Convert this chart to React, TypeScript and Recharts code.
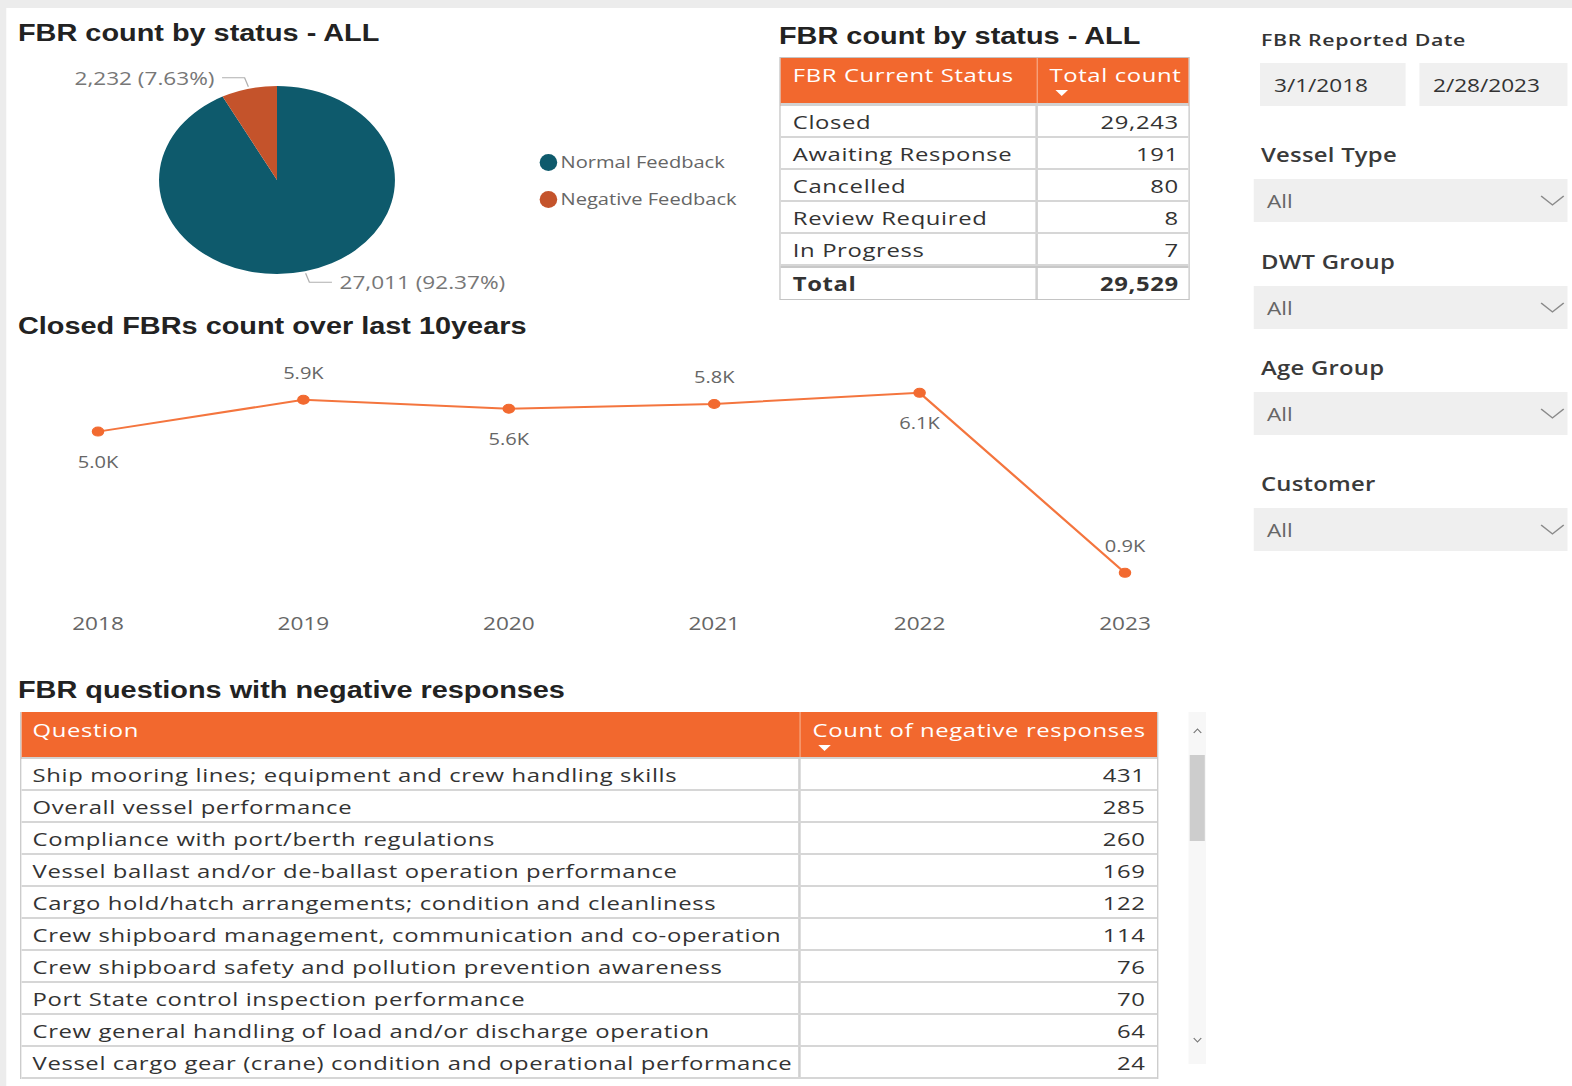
import React from "react";
import { PieChart, Pie, Cell, Legend, LineChart, Line, XAxis, YAxis } from "recharts";

// the reference screenshot is stretched horizontally, so the page is laid out
// narrower and scaled on x
const S = 1.255;
const X = (px: number) => px / S;

const FONT = '"Open Sans", "Noto Sans", sans-serif';
const TITLE_FONT = '"Liberation Sans", Arial, sans-serif';
const ORANGE = "#f2682e";

const FEEDBACK_NAMES = ["Normal Feedback", "Negative Feedback"];
const FEEDBACK_VALUES = [27011, 2232];
const FEEDBACK_COLORS = ["#0e5a6c", "#c4532b"];

const STATUS_NAMES = ["Closed", "Awaiting Response", "Cancelled", "Review Required", "In Progress"];
const STATUS_COUNTS = [29243, 191, 80, 8, 7];

const YEARS = ["2018", "2019", "2020", "2021", "2022", "2023"];
const CLOSED_COUNTS = [4980, 5900, 5640, 5780, 6100, 900];

const QUESTIONS = [
  "Ship mooring lines; equipment and crew handling skills",
  "Overall vessel performance",
  "Compliance with port/berth regulations",
  "Vessel ballast and/or de-ballast operation performance",
  "Cargo hold/hatch arrangements; condition and cleanliness",
  "Crew shipboard management, communication and co-operation",
  "Crew shipboard safety and pollution prevention awareness",
  "Port State control inspection performance",
  "Crew general handling of load and/or discharge operation",
  "Vessel cargo gear (crane) condition and operational performance",
];
const NEGATIVE_COUNTS = [431, 285, 260, 169, 122, 114, 76, 70, 64, 24];

const DATE_RANGE = ["3/1/2018", "2/28/2023"];
const SLICERS = ["Vessel Type", "DWT Group", "Age Group", "Customer"];
const SLICER_TOPS = [142, 249, 355, 471];

const pieData = FEEDBACK_NAMES.map((name, i) => ({ name, value: FEEDBACK_VALUES[i] }));
const lineData = YEARS.map((year, i) => ({ year, closed: CLOSED_COUNTS[i] }));
const statusTotal = STATUS_COUNTS.reduce((a, b) => a + b, 0);

const RAD = Math.PI / 180;

function renderPieLabel(props: any) {
  const { cx, cy, midAngle, outerRadius, value, percent } = props;
  const cos = Math.cos(-midAngle * RAD);
  const sin = Math.sin(-midAngle * RAD);
  const sx = cx + (outerRadius + 2) * cos;
  const sy = cy + (outerRadius + 2) * sin;
  const dir = cos >= 0 ? 1 : -1;
  const vdir = sin >= 0 ? 1 : -1;
  const mx = sx + dir * 3;
  const my = sy + vdir * 9;
  const ex = mx + dir * 18;
  return (
    <g>
      <polyline points={`${sx},${sy} ${mx},${my} ${ex},${my}`} fill="none" stroke="#b0b0b0" strokeWidth={1} />
      <text
        x={ex + dir * 6}
        y={my}
        textAnchor={dir > 0 ? "start" : "end"}
        dominantBaseline="central"
        fill="#777"
        fontSize={18}
      >
        {`${value.toLocaleString("en-US")} (${(percent * 100).toFixed(2)}%)`}
      </text>
    </g>
  );
}

function renderLegend(props: any) {
  const items = [...(props.payload || [])].sort(
    (a: any, b: any) => FEEDBACK_NAMES.indexOf(a.value) - FEEDBACK_NAMES.indexOf(b.value)
  );
  return (
    <div>
      {items.map((p: any) => (
        <div key={p.value} style={{ display: "flex", alignItems: "center", height: 37 }}>
          <span
            style={{ width: 14, height: 17, borderRadius: "50%", background: p.color, display: "inline-block", marginRight: 3 }}
          />
          <span style={{ fontSize: 16, color: "#666" }}>{p.value}</span>
        </div>
      ))}
    </div>
  );
}

function renderPointLabel(props: any) {
  const { x, y, value, index } = props;
  const above = index % 2 === 1;
  return (
    <text x={x} y={above ? y - 27 : y + 30} textAnchor="middle" dominantBaseline="central" fill="#666" fontSize={16}>
      {`${(value / 1000).toFixed(1)}K`}
    </text>
  );
}

function Title({ text, x, y }: { text: string; x: number; y: number }) {
  return (
    <div
      style={{
        position: "absolute",
        left: X(x),
        top: y - 14,
        fontFamily: TITLE_FONT,
        fontWeight: 700,
        fontSize: 23,
        lineHeight: "28px",
        color: "#222",
        whiteSpace: "nowrap",
      }}
    >
      {text}
    </div>
  );
}

function SortArrow() {
  return (
    <span
      style={{
        display: "block",
        width: 0,
        height: 0,
        borderLeft: "5px solid transparent",
        borderRight: "5px solid transparent",
        borderTop: "6px solid #fff",
        marginTop: 3,
        marginLeft: 5,
      }}
    />
  );
}

function Chevron({ x, y }: { x: number; y: number }) {
  return (
    <svg style={{ position: "absolute", left: x, top: y }} width={20} height={12}>
      <polyline points="1,1 10,10 19,1" fill="none" stroke="#8a8a8a" strokeWidth={1.2} />
    </svg>
  );
}

const cellText: React.CSSProperties = {
  fontSize: 19,
  letterSpacing: 0.5,
  color: "#333",
  whiteSpace: "nowrap",
  overflow: "hidden",
};

const headText: React.CSSProperties = {
  color: "#fff",
  fontSize: 19,
  letterSpacing: 0.5,
  lineHeight: "24px",
  whiteSpace: "nowrap",
};

function StatusTable() {
  const left = X(779);
  const width = X(1190) - left;
  const col1 = X(1037) - left;
  const rows = STATUS_NAMES.map((n, i) => ({ n, v: STATUS_COUNTS[i].toLocaleString("en-US") }));
  return (
    <div style={{ position: "absolute", left, top: 57, width, border: "1px solid #c4c4c4", boxSizing: "border-box" }}>
      <div style={{ display: "flex", height: 45, background: ORANGE, borderBottom: "3px solid #d2d2d2" }}>
        <div style={{ ...headText, width: col1, padding: "5px 0 0 10px", boxSizing: "border-box", borderRight: "1px solid #f7a783" }}>
          FBR Current Status
        </div>
        <div style={{ ...headText, flex: 1, padding: "5px 0 0 9px" }}>
          Total count
          <SortArrow />
        </div>
      </div>
      {[...rows, { n: "Total", v: statusTotal.toLocaleString("en-US") }].map((r) => {
        const total = r.n === "Total";
        return (
          <div
            key={r.n}
            style={{
              display: "flex",
              height: total ? 33 : 32,
              borderTop: total ? "2px solid #c8c8c8" : undefined,
              borderBottom: total ? undefined : "2px solid #d6d6d6",
              boxSizing: "border-box",
              alignItems: "center",
              fontWeight: total ? 700 : 400,
            }}
          >
            <div style={{ ...cellText, width: col1, padding: "1px 0 0 10px", boxSizing: "border-box", borderRight: "2px solid #d0d0d0", height: "100%", display: "flex", alignItems: "center" }}>
              {r.n}
            </div>
            <div style={{ ...cellText, flex: 1, textAlign: "right", padding: "1px 8px 0 0" }}>{r.v}</div>
          </div>
        );
      })}
    </div>
  );
}

function QuestionTable() {
  const left = X(20);
  const width = X(1158) - left;
  const col1 = X(800) - left;
  return (
    <div style={{ position: "absolute", left, top: 712, width, height: 367, overflow: "hidden", borderLeft: "1px solid #c8c8c8", borderRight: "1px solid #c8c8c8", boxSizing: "border-box" }}>
      <div style={{ display: "flex", height: 45, background: ORANGE, borderBottom: "2px solid #d2d2d2" }}>
        <div style={{ ...headText, width: col1, padding: "6px 0 0 9px", boxSizing: "border-box", borderRight: "1px solid #f7a783" }}>
          Question
        </div>
        <div style={{ ...headText, flex: 1, padding: "6px 0 0 9px" }}>
          Count of negative responses
          <SortArrow />
        </div>
      </div>
      {QUESTIONS.map((q, i) => (
        <div
          key={q}
          style={{ display: "flex", height: 32, borderBottom: "2px solid #d6d6d6", boxSizing: "border-box", alignItems: "center" }}
        >
          <div style={{ ...cellText, width: col1, padding: "2px 0 0 9px", boxSizing: "border-box", borderRight: "2px solid #d0d0d0", height: "100%", display: "flex", alignItems: "center" }}>
            {q}
          </div>
          <div style={{ ...cellText, flex: 1, textAlign: "right", padding: "2px 9px 0 0" }}>{NEGATIVE_COUNTS[i]}</div>
        </div>
      ))}
    </div>
  );
}

function Scrollbar() {
  const left = X(1188);
  const w = X(18);
  return (
    <div style={{ position: "absolute", left, top: 712, width: w, height: 352, background: "#f7f7f7" }}>
      <svg style={{ position: "absolute", left: 0, top: 15 }} width={w} height={8}>
        <polyline points={`${w / 2 - 3},6 ${w / 2},2 ${w / 2 + 3},6`} fill="none" stroke="#777" strokeWidth={1} />
      </svg>
      <div style={{ position: "absolute", left: X(2), top: 43, width: X(15), height: 86, background: "#cdcdcd" }} />
      <svg style={{ position: "absolute", left: 0, top: 324 }} width={w} height={8}>
        <polyline points={`${w / 2 - 3},2 ${w / 2},6 ${w / 2 + 3},2`} fill="none" stroke="#777" strokeWidth={1} />
      </svg>
    </div>
  );
}

function Slicers() {
  const boxLeft = X(1254);
  const boxW = X(1568) - boxLeft;
  return (
    <>
      <div style={{ position: "absolute", left: X(1261), top: 28, fontSize: 17, letterSpacing: 0.5, fontWeight: 600, color: "#333", lineHeight: "24px", whiteSpace: "nowrap" }}>
        FBR Reported Date
      </div>
      {DATE_RANGE.map((d, i) => {
        const l = i === 0 ? X(1260) : X(1419);
        const r = i === 0 ? X(1406) : X(1568);
        return (
          <div
            key={d}
            style={{ position: "absolute", left: l, top: 63, width: r - l, height: 43, background: "#f0f0f0", display: "flex", alignItems: "center", paddingLeft: X(14), boxSizing: "border-box", fontSize: 18, color: "#333" }}
          >
            {d}
          </div>
        );
      })}
      {SLICERS.map((s, i) => {
        const top = SLICER_TOPS[i];
        return (
          <React.Fragment key={s}>
            <div style={{ position: "absolute", left: X(1261), top, fontSize: 19, letterSpacing: 0.2, fontWeight: 600, color: "#3a3a3a", lineHeight: "26px", whiteSpace: "nowrap" }}>
              {s}
            </div>
            <div
              style={{ position: "absolute", left: boxLeft, top: top + 37, width: boxW, height: 43, background: "#efefef", display: "flex", alignItems: "center", paddingLeft: X(13), boxSizing: "border-box", fontSize: 18, color: "#666" }}
            >
              All
            </div>
            <Chevron x={X(1540)} y={top + 53} />
          </React.Fragment>
        );
      })}
    </>
  );
}

export default function App() {
  const pieW = X(760);
  const lineW = X(1230);
  return (
    <div style={{ position: "absolute", left: 0, top: 0, width: 1572, height: 1086, background: "#ececec", overflow: "hidden" }}>
      <div
        style={{
          position: "absolute",
          left: 0,
          top: 0,
          width: 1572 / S,
          height: 1086,
          transform: `scaleX(${S})`,
          transformOrigin: "0 0",
          fontFamily: FONT,
        }}
      >
        <div style={{ position: "absolute", left: X(6), top: 8, right: 0, bottom: 0, background: "#fff" }} />

        <Title text="FBR count by status - ALL" x={18} y={33} />
        <div style={{ position: "absolute", left: 0, top: 60 }}>
          <PieChart width={pieW} height={250} margin={{ top: 0, right: 0, bottom: 0, left: 0 }}>
            <Pie
              data={pieData}
              dataKey="value"
              nameKey="name"
              cx={X(277)}
              cy={120}
              outerRadius={94}
              startAngle={90}
              endAngle={-270}
              stroke="none"
              label={renderPieLabel}
              labelLine={false}
              isAnimationActive={false}
            >
              {pieData.map((d, i) => (
                <Cell key={d.name} fill={FEEDBACK_COLORS[i]} />
              ))}
            </Pie>
            <Legend
              layout="vertical"
              align="right"
              verticalAlign="top"
              content={renderLegend}
              wrapperStyle={{ left: X(548) - 7, top: 102 - 18.5, width: 180 }}
            />
          </PieChart>
        </div>

        <Title text="FBR count by status - ALL" x={779} y={36} />
        <StatusTable />

        <Title text="Closed FBRs count over last 10years" x={18} y={326} />
        <div style={{ position: "absolute", left: 0, top: 340 }}>
          <LineChart width={lineW} height={300} data={lineData} margin={{ top: 39, right: 0, bottom: 6, left: 0 }}>
            <XAxis
              dataKey="year"
              scale="point"
              padding={{ left: X(98), right: lineW - X(1125) }}
              axisLine={false}
              tickLine={false}
              height={30}
              tickMargin={7}
              tick={{ fontSize: 18, fill: "#666" }}
            />
            <YAxis hide domain={[0, 6500]} />
            <Line
              type="linear"
              dataKey="closed"
              stroke="#f4753e"
              strokeWidth={2}
              dot={{ r: 4.5, fill: "#f26a30", stroke: "#f26a30", strokeWidth: 1 }}
              activeDot={false}
              label={renderPointLabel}
              isAnimationActive={false}
            />
          </LineChart>
        </div>

        <Title text="FBR questions with negative responses" x={18} y={690} />
        <QuestionTable />
        <Scrollbar />

        <Slicers />
      </div>
    </div>
  );
}
